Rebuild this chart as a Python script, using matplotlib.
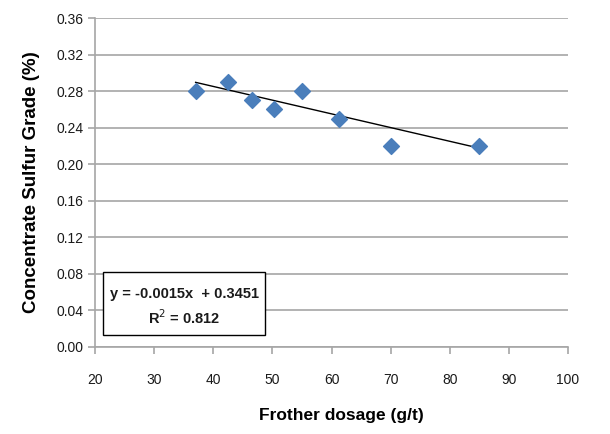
import matplotlib
matplotlib.use("Agg")
import matplotlib.pyplot as plt
from matplotlib.patches import Rectangle
import numpy as np

plt.rcParams['font.family'] = ['Liberation Sans', 'DejaVu Sans']

# data
dosage = [37, 42.5, 46.5, 50.3, 55, 61.3, 70, 85]
grade = [0.28, 0.29, 0.27, 0.26, 0.28, 0.25, 0.22, 0.22]
slope = -0.0015
intercept = 0.3451
r2 = 0.812

fig = plt.figure(figsize=(6.10, 4.34), dpi=100)
ax = fig.add_axes([0.156, 0.2005, 0.775, 0.758])

ax.set_xlim(20, 100)
ax.set_ylim(0, 0.36)
ax.set_xticks(np.arange(20, 101, 10))
ax.set_yticks(np.arange(0, 0.361, 0.04))
ax.yaxis.set_major_formatter(plt.FuncFormatter(lambda v, _: f"{v:.2f}"))

ax.grid(axis='y', color='#a6a6a6', linewidth=1.2)
ax.set_axisbelow(True)
for s in ['top', 'right']:
    ax.spines[s].set_visible(False)
for s in ['left', 'bottom']:
    ax.spines[s].set_color('#a6a6a6')
    ax.spines[s].set_linewidth(1.2)
ax.tick_params(axis='both', color='#a6a6a6', length=5, width=1.2,
               labelsize=10, labelcolor='#1a1a1a')
ax.tick_params(axis='x', pad=14)

ax.scatter(dosage, grade, marker='D', s=65, color='#4a7ebb', zorder=3)

xs = np.array([min(dosage), max(dosage)])
ax.plot(xs, slope * xs + intercept, color='black', linewidth=1.0, zorder=2)

# equation box
ax.add_patch(Rectangle((0.017, 0.036), 0.342, 0.192, transform=ax.transAxes,
                       facecolor='white', edgecolor='black', linewidth=1.0, zorder=4))
ax.text(0.188, 0.160, f"y = {slope:.4f}x  + {intercept:.4f}", transform=ax.transAxes,
        ha='center', va='center', fontsize=10.5, fontweight='bold',
        color='#1a1a1a', zorder=5)
ax.text(0.188, 0.088, f"R$^2$ = {r2:.3f}", transform=ax.transAxes,
        ha='center', va='center', fontsize=10.5, fontweight='bold',
        color='#1a1a1a', zorder=5)

ax.set_xlabel("Frother dosage (g/t)", fontsize=12.5, fontweight='bold')
ax.xaxis.set_label_coords(0.52, -0.185)
ax.set_ylabel("Concentrate Sulfur Grade (%)", fontsize=13.5, fontweight='bold', labelpad=12)

fig.savefig("out.png", dpi=100)
